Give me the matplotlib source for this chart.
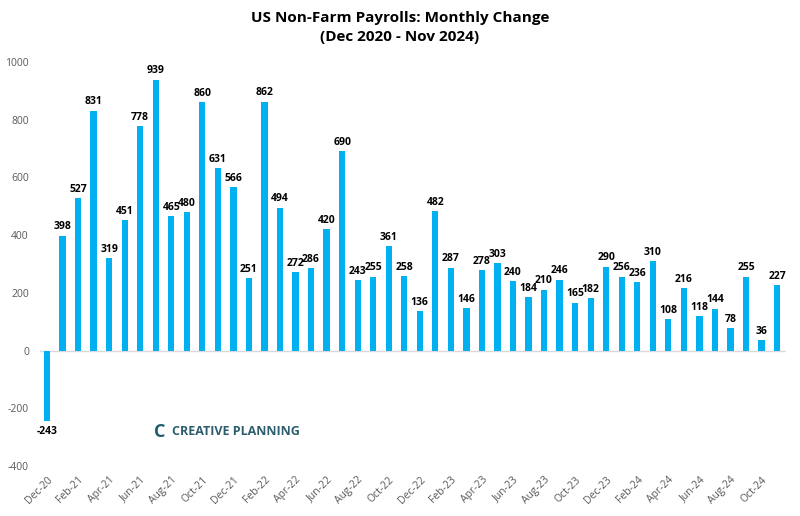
import matplotlib
matplotlib.use("Agg")
from matplotlib import pyplot as plt
import numpy as np

months = ["Dec-20", "Jan-21", "Feb-21", "Mar-21", "Apr-21", "May-21", "Jun-21", "Jul-21",
          "Aug-21", "Sep-21", "Oct-21", "Nov-21", "Dec-21", "Jan-22", "Feb-22", "Mar-22",
          "Apr-22", "May-22", "Jun-22", "Jul-22", "Aug-22", "Sep-22", "Oct-22", "Nov-22",
          "Dec-22", "Jan-23", "Feb-23", "Mar-23", "Apr-23", "May-23", "Jun-23", "Jul-23",
          "Aug-23", "Sep-23", "Oct-23", "Nov-23", "Dec-23", "Jan-24", "Feb-24", "Mar-24",
          "Apr-24", "May-24", "Jun-24", "Jul-24", "Aug-24", "Sep-24", "Oct-24", "Nov-24"]
payrolls = [-243, 398, 527, 831, 319, 451, 778, 939, 465, 480, 860, 631, 566, 251, 862, 494,
            272, 286, 420, 690, 243, 255, 361, 258, 136, 482, 287, 146, 278, 303, 240, 184,
            210, 246, 165, 182, 290, 256, 236, 310, 108, 216, 118, 144, 78, 255, 36, 227]

plt.rcParams['font.family'] = ['Open Sans', 'DejaVu Sans']
plt.rcParams['axes.unicode_minus'] = False

fig = plt.figure(figsize=(8, 5.16), dpi=100)
ax = fig.add_axes([0.05, 0.097, 0.933, 0.783])

x = np.arange(len(payrolls))
ax.bar(x, payrolls, width=0.4, color='#00B0F0', zorder=2)

for xi, v in zip(x, payrolls):
    if v >= 0:
        ax.text(xi, v + 12, str(v), ha='center', va='bottom', fontsize=7.5, fontweight='bold')
    else:
        ax.text(xi, v - 20, str(v), ha='center', va='top', fontsize=7.5, fontweight='bold')

ax.set_ylim(-400, 1000)
ax.set_xlim(-0.45, len(payrolls) - 0.4)
ax.set_yticks(range(-400, 1001, 200))
ax.tick_params(axis='y', length=0, labelsize=7.5, labelcolor='#595959', pad=8)
ax.set_xticks(x[::2])
ax.set_xticklabels(months[::2], rotation=45, ha='right', rotation_mode='anchor')
ax.tick_params(axis='x', length=0, labelsize=7.5, labelcolor='#595959', pad=6)
ax.axhline(0, color='#D9D9D9', lw=1, zorder=1)
for s in ax.spines.values():
    s.set_visible(False)

fig.text(0.5, 0.965, 'US Non-Farm Payrolls: Monthly Change', ha='center', va='center',
         fontsize=11, fontweight='bold')
fig.text(0.5, 0.928, '(Dec 2020 - Nov 2024)', ha='center', va='center',
         fontsize=11, fontweight='bold')

# logo
fig.text(0.192, 0.163, 'C', ha='left', va='center', fontsize=13, fontweight='bold', color='#1F5C6B')
fig.text(0.215, 0.163, 'CREATIVE PLANNING', ha='left', va='center', fontsize=9,
         fontweight='bold', color='#2E5E6E')

fig.savefig('out.png', dpi=100)
